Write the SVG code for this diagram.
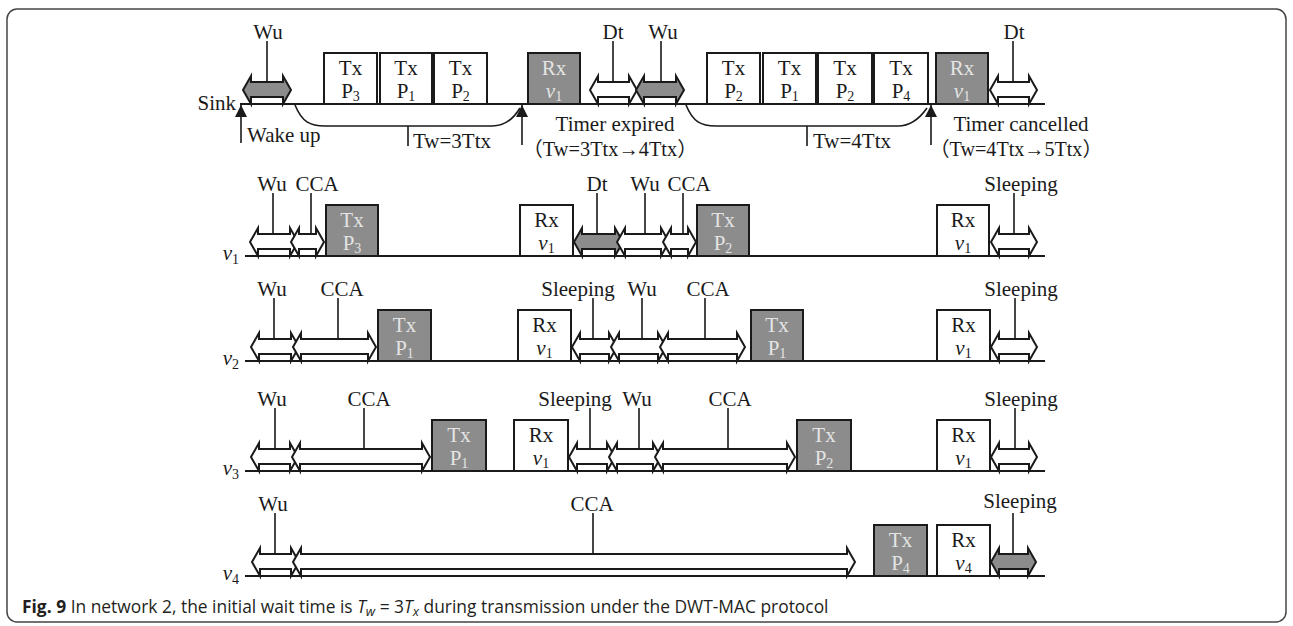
<svg xmlns="http://www.w3.org/2000/svg" width="1293" height="626" viewBox="0 0 1293 626">
<defs>
<style>
.t{font-family:"Liberation Serif","Times New Roman",serif;font-size:21px;fill:#1a1a1a}
.m{text-anchor:middle}
.gt{fill:#e4e4e4}
.box{fill:#fff;stroke:#1a1a1a;stroke-width:2}
.gbox{fill:#8c8c8c;stroke:#1a1a1a;stroke-width:2}
.arr{fill:#fff;stroke:#1a1a1a;stroke-width:2}
.garr{fill:#8c8c8c;stroke:#1a1a1a;stroke-width:2}
.ld{stroke:#1a1a1a;stroke-width:1.6;fill:none}
.bl{stroke:#1a1a1a;stroke-width:2;fill:none}
.cap{font-family:"Open Sans","Noto Sans",sans-serif;font-size:17.4px;fill:#231f20}
.cj{font-family:"Liberation Serif","Noto Sans CJK SC",serif;font-size:20px}
</style>
<marker id="up" markerWidth="12" markerHeight="12" viewBox="0 0 12 12" refX="12" refY="6" orient="auto" markerUnits="userSpaceOnUse">
<path d="M0,0 L12,6 L0,12 z" fill="#1a1a1a"/>
</marker>
</defs>
<rect width="1293" height="626" fill="#fff"/>
<rect x="7" y="9" width="1279" height="613" rx="10" fill="none" stroke="#444" stroke-width="1.5"/>

<!-- baselines / timelines -->
<g id="connectors">
<line class="bl" x1="240" y1="104" x2="1045" y2="104"/>
<line class="bl" x1="245" y1="256" x2="1045" y2="256"/>
<line class="bl" x1="245" y1="361" x2="1045" y2="361"/>
<line class="bl" x1="245" y1="471" x2="1045" y2="471"/>
<line class="bl" x1="245" y1="576" x2="1045" y2="576"/>
<line class="ld" x1="241" y1="143" x2="241" y2="105" marker-end="url(#up)"/>
<line class="ld" x1="522" y1="145" x2="522" y2="105" marker-end="url(#up)"/>
<line class="ld" x1="931" y1="145" x2="931" y2="105" marker-end="url(#up)"/>
<path class="ld" d="M295,105 C302,122 310,126 325,126 L492,126 C505,126 514,118 520,108"/>
<path class="ld" d="M686,105 C693,122 701,126 716,126 L898,126 C911,126 920,118 927,108"/>
<line class="ld" x1="408" y1="126" x2="408" y2="146"/>
<line class="ld" x1="807" y1="126" x2="807" y2="146"/>
<!-- leaders -->
<path class="ld" d="M267,41V82 M613,41V82 M661,41V82 M1013,41V82"/>
<path class="ld" d="M273,193V234 M311,193V234 M597,193V234 M645,193V234 M683,193V234 M1014,193V234"/>
<path class="ld" d="M274,298V339 M338,298V339 M593,298V339 M642,298V339 M705,298V339 M1015,298V339"/>
<path class="ld" d="M275,408V449 M364,408V449 M590,408V449 M639,408V449 M728,408V449 M1015,408V449"/>
<path class="ld" d="M275,513V554 M593,513V554 M1013,513V554"/>
</g>

<!-- row labels -->
<g id="row-labels">
<text class="t" x="236" y="110" text-anchor="end">Sink</text>
<text class="t" x="239" y="260" text-anchor="end"><tspan font-style="italic">v</tspan><tspan font-size="14" dy="4">1</tspan></text>
<text class="t" x="239" y="365" text-anchor="end"><tspan font-style="italic">v</tspan><tspan font-size="14" dy="4">2</tspan></text>
<text class="t" x="239" y="475" text-anchor="end"><tspan font-style="italic">v</tspan><tspan font-size="14" dy="4">3</tspan></text>
<text class="t" x="239" y="580" text-anchor="end"><tspan font-style="italic">v</tspan><tspan font-size="14" dy="4">4</tspan></text>
</g>

<!-- Sink row -->
<g id="sink-wu1"><path class="garr" d="M243,90 l8,-14 v6 h32 v-6 l8,14 l-8,14 v-7 h-32 v7 z"/><text class="t m" x="268" y="39">Wu</text></g>
<g id="sink-tx1"><rect class="box" x="324" y="53" width="53" height="51"/><text class="t m" x="350.5" y="75">Tx</text><text class="t m" x="350.5" y="98">P<tspan font-size="14" dy="3">3</tspan></text></g>
<g id="sink-tx2"><rect class="box" x="380" y="53" width="52" height="51"/><text class="t m" x="406" y="75">Tx</text><text class="t m" x="406" y="98">P<tspan font-size="14" dy="3">1</tspan></text></g>
<g id="sink-tx3"><rect class="box" x="434" y="53" width="53" height="51"/><text class="t m" x="460.5" y="75">Tx</text><text class="t m" x="460.5" y="98">P<tspan font-size="14" dy="3">2</tspan></text></g>
<g id="sink-rx1"><rect class="gbox" x="528" y="53" width="52" height="51"/><text class="t m gt" x="554" y="75">Rx</text><text class="t m gt" x="554" y="98"><tspan font-style="italic">v</tspan><tspan font-size="14" dy="3">1</tspan></text></g>
<g id="sink-dt1"><path class="arr" d="M590,90 l8,-14 v6 h31 v-6 l8,14 l-8,14 v-7 h-31 v7 z"/><text class="t m" x="613" y="39">Dt</text></g>
<g id="sink-wu2"><path class="garr" d="M636,90 l8,-14 v6 h32 v-6 l8,14 l-8,14 v-7 h-32 v7 z"/><text class="t m" x="663" y="39">Wu</text></g>
<g id="sink-tx4"><rect class="box" x="707" y="53" width="53" height="51"/><text class="t m" x="733.5" y="75">Tx</text><text class="t m" x="733.5" y="98">P<tspan font-size="14" dy="3">2</tspan></text></g>
<g id="sink-tx5"><rect class="box" x="763" y="53" width="53" height="51"/><text class="t m" x="789.5" y="75">Tx</text><text class="t m" x="789.5" y="98">P<tspan font-size="14" dy="3">1</tspan></text></g>
<g id="sink-tx6"><rect class="box" x="818" y="53" width="54" height="51"/><text class="t m" x="845" y="75">Tx</text><text class="t m" x="845" y="98">P<tspan font-size="14" dy="3">2</tspan></text></g>
<g id="sink-tx7"><rect class="box" x="874" y="53" width="54" height="51"/><text class="t m" x="901" y="75">Tx</text><text class="t m" x="901" y="98">P<tspan font-size="14" dy="3">4</tspan></text></g>
<g id="sink-rx2"><rect class="gbox" x="936" y="53" width="52" height="51"/><text class="t m gt" x="962" y="75">Rx</text><text class="t m gt" x="962" y="98"><tspan font-style="italic">v</tspan><tspan font-size="14" dy="3">1</tspan></text></g>
<g id="sink-dt2"><path class="arr" d="M990,90 l8,-14 v6 h31 v-6 l8,14 l-8,14 v-7 h-31 v7 z"/><text class="t m" x="1014" y="39">Dt</text></g>
<g id="sink-notes">
<text class="t" x="247" y="142">Wake up</text>
<text class="t" x="413" y="148">Tw=3Ttx</text>
<text class="t m" x="615" y="131">Timer expired</text>
<text class="t m cj" x="610" y="156" textLength="175" lengthAdjust="spacingAndGlyphs">（Tw=3Ttx→4Ttx）</text>
<text class="t" x="813" y="148">Tw=4Ttx</text>
<text class="t m" x="1021" y="131">Timer cancelled</text>
<text class="t m cj" x="1016" y="156" textLength="173" lengthAdjust="spacingAndGlyphs">（Tw=4Ttx→5Ttx）</text>
</g>

<!-- v1 row -->
<g id="v1-wu1"><path class="arr" d="M250,242 l8,-14 v6 h32 v-6 l8,14 l-8,14 v-7 h-32 v7 z"/><text class="t m" x="272" y="191">Wu</text></g>
<g id="v1-cca1"><path class="arr" d="M291,242 l8,-14 v6 h17 v-6 l8,14 l-8,14 v-7 h-17 v7 z"/><text class="t m" x="317" y="191">CCA</text></g>
<g id="v1-tx1"><rect class="gbox" x="326" y="205" width="52" height="51"/><text class="t m gt" x="352" y="227">Tx</text><text class="t m gt" x="352" y="250">P<tspan font-size="14" dy="3">3</tspan></text></g>
<g id="v1-rx1"><rect class="box" x="520" y="205" width="53" height="51"/><text class="t m" x="546.5" y="227">Rx</text><text class="t m" x="546.5" y="250"><tspan font-style="italic">v</tspan><tspan font-size="14" dy="3">1</tspan></text></g>
<g id="v1-dt"><path class="garr" d="M574,242 l8,-14 v6 h33 v-6 l8,14 l-8,14 v-7 h-33 v7 z"/><text class="t m" x="597" y="191">Dt</text></g>
<g id="v1-wu2"><path class="arr" d="M617,242 l8,-14 v6 h36 v-6 l8,14 l-8,14 v-7 h-36 v7 z"/><text class="t m" x="645" y="191">Wu</text></g>
<g id="v1-cca2"><path class="arr" d="M663,242 l8,-14 v6 h17 v-6 l8,14 l-8,14 v-7 h-17 v7 z"/><text class="t m" x="689" y="191">CCA</text></g>
<g id="v1-tx2"><rect class="gbox" x="697" y="205" width="52" height="51"/><text class="t m gt" x="723" y="227">Tx</text><text class="t m gt" x="723" y="250">P<tspan font-size="14" dy="3">2</tspan></text></g>
<g id="v1-rx2"><rect class="box" x="937" y="205" width="52" height="51"/><text class="t m" x="963" y="227">Rx</text><text class="t m" x="963" y="250"><tspan font-style="italic">v</tspan><tspan font-size="14" dy="3">1</tspan></text></g>
<g id="v1-sl"><path class="arr" d="M991,242 l8,-14 v6 h30 v-6 l8,14 l-8,14 v-7 h-30 v7 z"/><text class="t m" x="1021" y="191">Sleeping</text></g>

<!-- v2 row -->
<g id="v2-wu1"><path class="arr" d="M251,347 l8,-14 v6 h32 v-6 l8,14 l-8,14 v-7 h-32 v7 z"/><text class="t m" x="272" y="296">Wu</text></g>
<g id="v2-cca1"><path class="arr" d="M293,347 l8,-14 v6 h67 v-6 l8,14 l-8,14 v-7 h-67 v7 z"/><text class="t m" x="342" y="296">CCA</text></g>
<g id="v2-tx1"><rect class="gbox" x="378" y="310" width="53" height="51"/><text class="t m gt" x="404.5" y="332">Tx</text><text class="t m gt" x="404.5" y="355">P<tspan font-size="14" dy="3">1</tspan></text></g>
<g id="v2-rx1"><rect class="box" x="518" y="310" width="53" height="51"/><text class="t m" x="544.5" y="332">Rx</text><text class="t m" x="544.5" y="355"><tspan font-style="italic">v</tspan><tspan font-size="14" dy="3">1</tspan></text></g>
<g id="v2-sl1"><path class="arr" d="M572,347 l8,-14 v6 h29 v-6 l8,14 l-8,14 v-7 h-29 v7 z"/><text class="t m" x="578" y="296">Sleeping</text></g>
<g id="v2-wu2"><path class="arr" d="M611,347 l8,-14 v6 h39 v-6 l8,14 l-8,14 v-7 h-39 v7 z"/><text class="t m" x="642" y="296">Wu</text></g>
<g id="v2-cca2"><path class="arr" d="M660,347 l8,-14 v6 h69 v-6 l8,14 l-8,14 v-7 h-69 v7 z"/><text class="t m" x="708" y="296">CCA</text></g>
<g id="v2-tx2"><rect class="gbox" x="751" y="310" width="52" height="51"/><text class="t m gt" x="777" y="332">Tx</text><text class="t m gt" x="777" y="355">P<tspan font-size="14" dy="3">1</tspan></text></g>
<g id="v2-rx2"><rect class="box" x="937" y="310" width="53" height="51"/><text class="t m" x="963.5" y="332">Rx</text><text class="t m" x="963.5" y="355"><tspan font-style="italic">v</tspan><tspan font-size="14" dy="3">1</tspan></text></g>
<g id="v2-sl2"><path class="arr" d="M991,347 l8,-14 v6 h30 v-6 l8,14 l-8,14 v-7 h-30 v7 z"/><text class="t m" x="1021" y="296">Sleeping</text></g>

<!-- v3 row -->
<g id="v3-wu1"><path class="arr" d="M251,457 l8,-14 v6 h31 v-6 l8,14 l-8,14 v-7 h-31 v7 z"/><text class="t m" x="272" y="406">Wu</text></g>
<g id="v3-cca1"><path class="arr" d="M292,457 l8,-14 v6 h122 v-6 l8,14 l-8,14 v-7 h-122 v7 z"/><text class="t m" x="369" y="406">CCA</text></g>
<g id="v3-tx1"><rect class="gbox" x="432" y="420" width="54" height="51"/><text class="t m gt" x="459" y="442">Tx</text><text class="t m gt" x="459" y="465">P<tspan font-size="14" dy="3">1</tspan></text></g>
<g id="v3-rx1"><rect class="box" x="514" y="420" width="54" height="51"/><text class="t m" x="541" y="442">Rx</text><text class="t m" x="541" y="465"><tspan font-style="italic">v</tspan><tspan font-size="14" dy="3">1</tspan></text></g>
<g id="v3-sl1"><path class="arr" d="M569,457 l8,-14 v6 h30 v-6 l8,14 l-8,14 v-7 h-30 v7 z"/><text class="t m" x="575" y="406">Sleeping</text></g>
<g id="v3-wu2"><path class="arr" d="M609,457 l8,-14 v6 h36 v-6 l8,14 l-8,14 v-7 h-36 v7 z"/><text class="t m" x="637" y="406">Wu</text></g>
<g id="v3-cca2"><path class="arr" d="M655,457 l8,-14 v6 h124 v-6 l8,14 l-8,14 v-7 h-124 v7 z"/><text class="t m" x="730" y="406">CCA</text></g>
<g id="v3-tx2"><rect class="gbox" x="797" y="420" width="54" height="51"/><text class="t m gt" x="824" y="442">Tx</text><text class="t m gt" x="824" y="465">P<tspan font-size="14" dy="3">2</tspan></text></g>
<g id="v3-rx2"><rect class="box" x="937" y="420" width="53" height="51"/><text class="t m" x="963.5" y="442">Rx</text><text class="t m" x="963.5" y="465"><tspan font-style="italic">v</tspan><tspan font-size="14" dy="3">1</tspan></text></g>
<g id="v3-sl2"><path class="arr" d="M991,457 l8,-14 v6 h30 v-6 l8,14 l-8,14 v-7 h-30 v7 z"/><text class="t m" x="1021" y="406">Sleeping</text></g>

<!-- v4 row -->
<g id="v4-wu"><path class="arr" d="M252,562 l8,-14 v6 h31 v-6 l8,14 l-8,14 v-7 h-31 v7 z"/><text class="t m" x="273" y="511">Wu</text></g>
<g id="v4-cca"><path class="arr" d="M293,562 l8,-14 v6 h546 v-6 l8,14 l-8,14 v-7 h-546 v7 z"/><text class="t m" x="592" y="511">CCA</text></g>
<g id="v4-tx"><rect class="gbox" x="874" y="525" width="53" height="51"/><text class="t m gt" x="900.5" y="547">Tx</text><text class="t m gt" x="900.5" y="570">P<tspan font-size="14" dy="3">4</tspan></text></g>
<g id="v4-rx"><rect class="box" x="937" y="525" width="53" height="51"/><text class="t m" x="963.5" y="547">Rx</text><text class="t m" x="963.5" y="570"><tspan font-style="italic">v</tspan><tspan font-size="14" dy="3">4</tspan></text></g>
<g id="v4-sl"><path class="garr" d="M991,562 l8,-14 v6 h29 v-6 l8,14 l-8,14 v-7 h-29 v7 z"/><text class="t m" x="1020" y="508">Sleeping</text></g>

<!-- caption -->
<text class="cap" x="22" y="613"><tspan font-weight="bold">Fig. 9</tspan> In network 2, the initial wait time is <tspan font-style="italic">T</tspan><tspan font-style="italic" font-size="13" dy="3">w</tspan><tspan dy="-3"> = 3</tspan><tspan font-style="italic">T</tspan><tspan font-style="italic" font-size="13" dy="3">x</tspan><tspan dy="-3"> during transmission under the DWT-MAC protocol</tspan></text>
</svg>
